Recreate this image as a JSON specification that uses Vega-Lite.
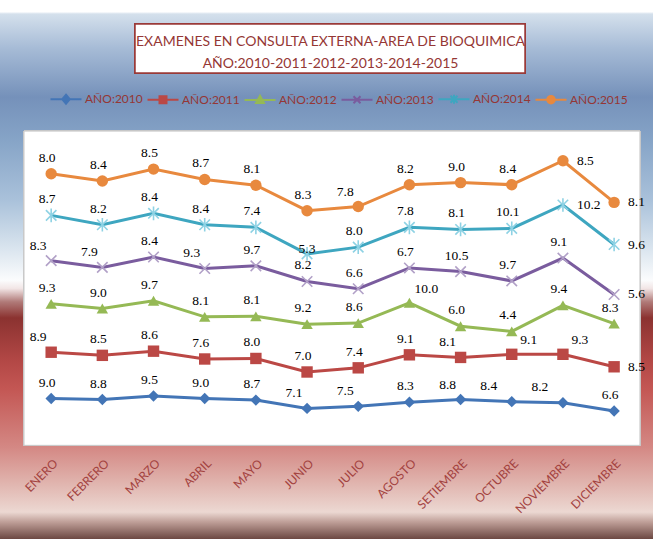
{
  "$schema": "https://vega.github.io/schema/vega-lite/v6.json",
  "width": 653,
  "height": 539,
  "padding": 0,
  "autosize": {"type": "none"},
  "background": "#ffffff",
  "config": {
    "view": {
      "stroke": null,
      "fill": {
        "gradient": "linear", "x1": 0, "y1": 0, "x2": 0, "y2": 1,
        "stops": [
          {"offset": 0, "color": "#ffffff"},
          {"offset": 0.022, "color": "#ffffff"},
          {"offset": 0.026, "color": "#d4e0ec"},
          {"offset": 0.09, "color": "#a6bbd6"},
          {"offset": 0.18, "color": "#7591ba"},
          {"offset": 0.26, "color": "#86a4c7"},
          {"offset": 0.37, "color": "#a9c1da"},
          {"offset": 0.46, "color": "#d9e4ee"},
          {"offset": 0.52, "color": "#fbfcfd"},
          {"offset": 0.535, "color": "#f2e6e6"},
          {"offset": 0.56, "color": "#b07a78"},
          {"offset": 0.59, "color": "#8b3230"},
          {"offset": 0.67, "color": "#b34846"},
          {"offset": 0.72, "color": "#c35653"},
          {"offset": 0.83, "color": "#d48884"},
          {"offset": 0.89, "color": "#dfb0aa"},
          {"offset": 0.95, "color": "#ecd8d2"},
          {"offset": 0.968, "color": "#c0a099"},
          {"offset": 1, "color": "#6c4842"}
        ]
      }
    }
  },
  "title": {
    "text": ["EXAMENES EN CONSULTA EXTERNA-AREA DE BIOQUIMICA", "AÑO:2010-2011-2012-2013-2014-2015"],
    "frame": "group", "anchor": "middle", "orient": "top", "offset": -71,
    "lineHeight": 22, "font": "Lato", "fontSize": 14, "fontWeight": "normal", "color": "#953735", "dx": 4, "zindex": 2
  },
  "data": {
    "values": [
      {"mes": "ENERO", "n": 1, "serie": "AÑO:2010", "v": 9.0},
      {"mes": "FEBRERO", "n": 2, "serie": "AÑO:2010", "v": 8.8},
      {"mes": "MARZO", "n": 3, "serie": "AÑO:2010", "v": 9.5},
      {"mes": "ABRIL", "n": 4, "serie": "AÑO:2010", "v": 9.0},
      {"mes": "MAYO", "n": 5, "serie": "AÑO:2010", "v": 8.7},
      {"mes": "JUNIO", "n": 6, "serie": "AÑO:2010", "v": 7.1},
      {"mes": "JULIO", "n": 7, "serie": "AÑO:2010", "v": 7.5},
      {"mes": "AGOSTO", "n": 8, "serie": "AÑO:2010", "v": 8.3},
      {"mes": "SETIEMBRE", "n": 9, "serie": "AÑO:2010", "v": 8.8},
      {"mes": "OCTUBRE", "n": 10, "serie": "AÑO:2010", "v": 8.4},
      {"mes": "NOVIEMBRE", "n": 11, "serie": "AÑO:2010", "v": 8.2},
      {"mes": "DICIEMBRE", "n": 12, "serie": "AÑO:2010", "v": 6.6},
      {"mes": "ENERO", "n": 1, "serie": "AÑO:2011", "v": 8.9},
      {"mes": "FEBRERO", "n": 2, "serie": "AÑO:2011", "v": 8.5},
      {"mes": "MARZO", "n": 3, "serie": "AÑO:2011", "v": 8.6},
      {"mes": "ABRIL", "n": 4, "serie": "AÑO:2011", "v": 7.6},
      {"mes": "MAYO", "n": 5, "serie": "AÑO:2011", "v": 8.0},
      {"mes": "JUNIO", "n": 6, "serie": "AÑO:2011", "v": 7.0},
      {"mes": "JULIO", "n": 7, "serie": "AÑO:2011", "v": 7.4},
      {"mes": "AGOSTO", "n": 8, "serie": "AÑO:2011", "v": 9.1},
      {"mes": "SETIEMBRE", "n": 9, "serie": "AÑO:2011", "v": 8.1},
      {"mes": "OCTUBRE", "n": 10, "serie": "AÑO:2011", "v": 9.1},
      {"mes": "NOVIEMBRE", "n": 11, "serie": "AÑO:2011", "v": 9.3},
      {"mes": "DICIEMBRE", "n": 12, "serie": "AÑO:2011", "v": 8.5},
      {"mes": "ENERO", "n": 1, "serie": "AÑO:2012", "v": 9.3},
      {"mes": "FEBRERO", "n": 2, "serie": "AÑO:2012", "v": 9.0},
      {"mes": "MARZO", "n": 3, "serie": "AÑO:2012", "v": 9.7},
      {"mes": "ABRIL", "n": 4, "serie": "AÑO:2012", "v": 8.1},
      {"mes": "MAYO", "n": 5, "serie": "AÑO:2012", "v": 8.1},
      {"mes": "JUNIO", "n": 6, "serie": "AÑO:2012", "v": 9.2},
      {"mes": "JULIO", "n": 7, "serie": "AÑO:2012", "v": 8.6},
      {"mes": "AGOSTO", "n": 8, "serie": "AÑO:2012", "v": 10.0},
      {"mes": "SETIEMBRE", "n": 9, "serie": "AÑO:2012", "v": 6.0},
      {"mes": "OCTUBRE", "n": 10, "serie": "AÑO:2012", "v": 4.4},
      {"mes": "NOVIEMBRE", "n": 11, "serie": "AÑO:2012", "v": 9.4},
      {"mes": "DICIEMBRE", "n": 12, "serie": "AÑO:2012", "v": 8.3},
      {"mes": "ENERO", "n": 1, "serie": "AÑO:2013", "v": 8.3},
      {"mes": "FEBRERO", "n": 2, "serie": "AÑO:2013", "v": 7.9},
      {"mes": "MARZO", "n": 3, "serie": "AÑO:2013", "v": 8.4},
      {"mes": "ABRIL", "n": 4, "serie": "AÑO:2013", "v": 9.3},
      {"mes": "MAYO", "n": 5, "serie": "AÑO:2013", "v": 9.7},
      {"mes": "JUNIO", "n": 6, "serie": "AÑO:2013", "v": 8.2},
      {"mes": "JULIO", "n": 7, "serie": "AÑO:2013", "v": 6.6},
      {"mes": "AGOSTO", "n": 8, "serie": "AÑO:2013", "v": 6.7},
      {"mes": "SETIEMBRE", "n": 9, "serie": "AÑO:2013", "v": 10.5},
      {"mes": "OCTUBRE", "n": 10, "serie": "AÑO:2013", "v": 9.7},
      {"mes": "NOVIEMBRE", "n": 11, "serie": "AÑO:2013", "v": 9.1},
      {"mes": "DICIEMBRE", "n": 12, "serie": "AÑO:2013", "v": 5.6},
      {"mes": "ENERO", "n": 1, "serie": "AÑO:2014", "v": 8.7},
      {"mes": "FEBRERO", "n": 2, "serie": "AÑO:2014", "v": 8.2},
      {"mes": "MARZO", "n": 3, "serie": "AÑO:2014", "v": 8.4},
      {"mes": "ABRIL", "n": 4, "serie": "AÑO:2014", "v": 8.4},
      {"mes": "MAYO", "n": 5, "serie": "AÑO:2014", "v": 7.4},
      {"mes": "JUNIO", "n": 6, "serie": "AÑO:2014", "v": 5.3},
      {"mes": "JULIO", "n": 7, "serie": "AÑO:2014", "v": 8.0},
      {"mes": "AGOSTO", "n": 8, "serie": "AÑO:2014", "v": 7.8},
      {"mes": "SETIEMBRE", "n": 9, "serie": "AÑO:2014", "v": 8.1},
      {"mes": "OCTUBRE", "n": 10, "serie": "AÑO:2014", "v": 10.1},
      {"mes": "NOVIEMBRE", "n": 11, "serie": "AÑO:2014", "v": 10.2},
      {"mes": "DICIEMBRE", "n": 12, "serie": "AÑO:2014", "v": 9.6},
      {"mes": "ENERO", "n": 1, "serie": "AÑO:2015", "v": 8.0},
      {"mes": "FEBRERO", "n": 2, "serie": "AÑO:2015", "v": 8.4},
      {"mes": "MARZO", "n": 3, "serie": "AÑO:2015", "v": 8.5},
      {"mes": "ABRIL", "n": 4, "serie": "AÑO:2015", "v": 8.7},
      {"mes": "MAYO", "n": 5, "serie": "AÑO:2015", "v": 8.1},
      {"mes": "JUNIO", "n": 6, "serie": "AÑO:2015", "v": 8.3},
      {"mes": "JULIO", "n": 7, "serie": "AÑO:2015", "v": 7.8},
      {"mes": "AGOSTO", "n": 8, "serie": "AÑO:2015", "v": 8.2},
      {"mes": "SETIEMBRE", "n": 9, "serie": "AÑO:2015", "v": 9.0},
      {"mes": "OCTUBRE", "n": 10, "serie": "AÑO:2015", "v": 8.4},
      {"mes": "NOVIEMBRE", "n": 11, "serie": "AÑO:2015", "v": 8.5},
      {"mes": "DICIEMBRE", "n": 12, "serie": "AÑO:2015", "v": 8.1}
    ]
  },
  "transform": [
    {"stack": "v", "groupby": ["mes"], "sort": [{"field": "serie", "order": "ascending"}], "as": ["y0", "y1"]}
  ],
  "layer": [
    {
      "mark": {"type": "rect", "fill": "#ffffff", "stroke": "#c8c8c8", "strokeWidth": 1},
      "encoding": {
        "x": {"datum": 0.469, "type": "quantitative", "scale": {"domain": [0, 12.76], "nice": false, "zero": false}},
        "x2": {"datum": 12.505},
        "y": {"datum": 0, "type": "quantitative", "scale": {"domain": [-18, 85.6], "nice": false, "zero": false}, "axis": null},
        "y2": {"datum": 60.4}
      }
    },
    {
      "mark": {"type": "rect", "fill": "#ffffff", "stroke": "#9b3b39", "strokeWidth": 1.5},
      "encoding": {
        "x": {"datum": 2.638, "type": "quantitative", "scale": {"domain": [0, 12.76], "nice": false, "zero": false}},
        "x2": {"datum": 10.259},
        "y": {"datum": 81.0, "type": "quantitative", "scale": {"domain": [-18, 85.6], "nice": false, "zero": false}, "axis": null},
        "y2": {"datum": 71.57}
      }
    },
    {
      "mark": {"type": "line", "strokeWidth": 3},
      "encoding": {
        "x": {
          "field": "n", "type": "quantitative",
          "scale": {"domain": [0, 12.76], "nice": false, "zero": false},
          "axis": {
            "values": [1, 2, 3, 4, 5, 6, 7, 8, 9, 10, 11, 12],
            "labelExpr": "['ENERO','FEBRERO','MARZO','ABRIL','MAYO','JUNIO','JULIO','AGOSTO','SETIEMBRE','OCTUBRE','NOVIEMBRE','DICIEMBRE'][datum.value - 1]",
            "labelAngle": -45, "labelAlign": "right", "labelBaseline": "middle",
            "labelFont": "Lato", "labelFontSize": 12, "labelColor": "#a3423f",
            "domain": false, "ticks": false, "grid": false, "title": null,
            "offset": -85, "labelPadding": 7, "labelOffset": 4, "labelOverlap": false, "zindex": 1
          }
        },
        "y": {"field": "y1", "type": "quantitative", "scale": {"domain": [-18, 85.6], "nice": false, "zero": false}, "axis": null},
        "color": {
          "field": "serie", "type": "nominal",
          "scale": {
            "domain": ["AÑO:2010", "AÑO:2011", "AÑO:2012", "AÑO:2013", "AÑO:2014", "AÑO:2015"],
            "range": ["#4375b6", "#bb4845", "#95b955", "#7a5c9e", "#3ea6c0", "#e8893e"]
          },
          "legend": {
            "title": null, "orient": "none", "legendX": 60, "legendY": 93, "direction": "horizontal",
            "labelFont": "Lato", "labelFontSize": 12, "labelColor": "#953735",
            "symbolSize": 100, "symbolStrokeWidth": 2, "labelOffset": 13, "columnPadding": 0, "padding": 0, "zindex": 1,
            "encoding": {
              "symbols": {
                "shape": {"value": {"expr": "datum.value == 'AÑO:2010' ? 'M-3.1,0L3.1,0M0,-0.9L0.75,0L0,0.9L-0.75,0Z' : datum.value == 'AÑO:2011' ? 'M-3.1,0L3.1,0M-0.7,-0.7L0.7,-0.7L0.7,0.7L-0.7,0.7Z' : datum.value == 'AÑO:2012' ? 'M-3.1,0L3.1,0M0,-0.85L0.8,0.6L-0.8,0.6Z' : datum.value == 'AÑO:2013' ? 'M-3.1,0L3.1,0M-0.7,-0.7L0.7,0.7M-0.7,0.7L0.7,-0.7' : datum.value == 'AÑO:2014' ? 'M-3.1,0L3.1,0M-0.7,-0.7L0.7,0.7M-0.7,0.7L0.7,-0.7M0,-0.9L0,0.9' : 'M-3.1,0L3.1,0M0.75,0A0.75,0.75,0,1,1,-0.75,0A0.75,0.75,0,1,1,0.75,0Z'"}},
                "fill": {"value": {"expr": "scale('color', datum.value)"}},
                "stroke": {"value": {"expr": "scale('color', datum.value)"}},
                "strokeWidth": {"value": 2},
                "opacity": {"value": 1}
              }
            }
          }
        }
      }
    },
    {
      "transform": [{"filter": "indexof(['AÑO:2010','AÑO:2011','AÑO:2012','AÑO:2015'], datum.serie) >= 0"}],
      "mark": {"type": "point", "filled": true, "size": 130, "opacity": 1},
      "encoding": {
        "x": {"field": "n", "type": "quantitative", "scale": {"domain": [0, 12.76], "nice": false, "zero": false}},
        "y": {"field": "y1", "type": "quantitative", "scale": {"domain": [-18, 85.6], "nice": false, "zero": false}, "axis": null},
        "color": {"field": "serie", "type": "nominal"},
        "shape": {
          "field": "serie", "type": "nominal",
          "scale": {"domain": ["AÑO:2010", "AÑO:2011", "AÑO:2012", "AÑO:2015"], "range": ["diamond", "square", "triangle-up", "circle"]},
          "legend": null
        }
      }
    },
    {
      "transform": [{"filter": "datum.serie == 'AÑO:2013'"}],
      "mark": {"type": "point", "filled": false, "size": 110, "shape": "M-1,-1L1,1M-1,1L1,-1", "stroke": "#b1a0c7", "strokeWidth": 1.6, "opacity": 1},
      "encoding": {
        "x": {"field": "n", "type": "quantitative", "scale": {"domain": [0, 12.76], "nice": false, "zero": false}},
        "y": {"field": "y1", "type": "quantitative", "scale": {"domain": [-18, 85.6], "nice": false, "zero": false}, "axis": null}
      }
    },
    {
      "transform": [{"filter": "datum.serie == 'AÑO:2014'"}],
      "mark": {"type": "point", "filled": false, "size": 110, "shape": "M-1,-1L1,1M-1,1L1,-1M0,-1.3L0,1.3", "stroke": "#8ed2e4", "strokeWidth": 1.6, "opacity": 1},
      "encoding": {
        "x": {"field": "n", "type": "quantitative", "scale": {"domain": [0, 12.76], "nice": false, "zero": false}},
        "y": {"field": "y1", "type": "quantitative", "scale": {"domain": [-18, 85.6], "nice": false, "zero": false}, "axis": null}
      }
    },
    {
      "transform": [{"filter": "indexof(['NOVIEMBRE|AÑO:2015','DICIEMBRE|AÑO:2015','NOVIEMBRE|AÑO:2014','DICIEMBRE|AÑO:2014','DICIEMBRE|AÑO:2013','DICIEMBRE|AÑO:2011','AGOSTO|AÑO:2012','OCTUBRE|AÑO:2011','NOVIEMBRE|AÑO:2011','OCTUBRE|AÑO:2010','NOVIEMBRE|AÑO:2010','SETIEMBRE|AÑO:2011','ABRIL|AÑO:2013','JULIO|AÑO:2015','SETIEMBRE|AÑO:2010','FEBRERO|AÑO:2013','JULIO|AÑO:2010','ENERO|AÑO:2011','ENERO|AÑO:2013','JUNIO|AÑO:2010','JUNIO|AÑO:2014'], datum.mes + '|' + datum.serie) < 0"}],
      "mark": {"type": "text", "font": "Liberation Serif", "fontSize": 13.5, "color": "#000000", "dx": -4, "dy": -16, "align": "center", "baseline": "middle"},
      "encoding": {
        "x": {"field": "n", "type": "quantitative", "scale": {"domain": [0, 12.76], "nice": false, "zero": false}},
        "y": {"field": "y1", "type": "quantitative", "scale": {"domain": [-18, 85.6], "nice": false, "zero": false}, "axis": null},
        "text": {"field": "v", "type": "quantitative", "format": ".1f"}
      }
    },
    {
      "transform": [{"filter": "indexof(['NOVIEMBRE|AÑO:2015','DICIEMBRE|AÑO:2015','NOVIEMBRE|AÑO:2014','DICIEMBRE|AÑO:2014','DICIEMBRE|AÑO:2013','DICIEMBRE|AÑO:2011'], datum.mes + '|' + datum.serie) >= 0"}],
      "mark": {"type": "text", "font": "Liberation Serif", "fontSize": 13.5, "color": "#000000", "dx": 14, "dy": 0, "align": "left", "baseline": "middle"},
      "encoding": {
        "x": {"field": "n", "type": "quantitative", "scale": {"domain": [0, 12.76], "nice": false, "zero": false}},
        "y": {"field": "y1", "type": "quantitative", "scale": {"domain": [-18, 85.6], "nice": false, "zero": false}, "axis": null},
        "text": {"field": "v", "type": "quantitative", "format": ".1f"}
      }
    },
    {
      "transform": [{"filter": "indexof(['AGOSTO|AÑO:2012','OCTUBRE|AÑO:2011','NOVIEMBRE|AÑO:2011'], datum.mes + '|' + datum.serie) >= 0"}],
      "mark": {"type": "text", "font": "Liberation Serif", "fontSize": 13.5, "color": "#000000", "dx": 17, "dy": -14, "align": "center", "baseline": "middle"},
      "encoding": {
        "x": {"field": "n", "type": "quantitative", "scale": {"domain": [0, 12.76], "nice": false, "zero": false}},
        "y": {"field": "y1", "type": "quantitative", "scale": {"domain": [-18, 85.6], "nice": false, "zero": false}, "axis": null},
        "text": {"field": "v", "type": "quantitative", "format": ".1f"}
      }
    },
    {
      "transform": [{"filter": "indexof(['SETIEMBRE|AÑO:2011','ABRIL|AÑO:2013','JULIO|AÑO:2015','SETIEMBRE|AÑO:2010','FEBRERO|AÑO:2013','JULIO|AÑO:2010','ENERO|AÑO:2011','ENERO|AÑO:2013','JUNIO|AÑO:2010'], datum.mes + '|' + datum.serie) >= 0"}],
      "mark": {"type": "text", "font": "Liberation Serif", "fontSize": 13.5, "color": "#000000", "dx": -13, "dy": -15, "align": "center", "baseline": "middle"},
      "encoding": {
        "x": {"field": "n", "type": "quantitative", "scale": {"domain": [0, 12.76], "nice": false, "zero": false}},
        "y": {"field": "y1", "type": "quantitative", "scale": {"domain": [-18, 85.6], "nice": false, "zero": false}, "axis": null},
        "text": {"field": "v", "type": "quantitative", "format": ".1f"}
      }
    },
    {
      "transform": [{"filter": "indexof(['OCTUBRE|AÑO:2010','NOVIEMBRE|AÑO:2010'], datum.mes + '|' + datum.serie) >= 0"}],
      "mark": {"type": "text", "font": "Liberation Serif", "fontSize": 13.5, "color": "#000000", "dx": -23, "dy": -16, "align": "center", "baseline": "middle"},
      "encoding": {
        "x": {"field": "n", "type": "quantitative", "scale": {"domain": [0, 12.76], "nice": false, "zero": false}},
        "y": {"field": "y1", "type": "quantitative", "scale": {"domain": [-18, 85.6], "nice": false, "zero": false}, "axis": null},
        "text": {"field": "v", "type": "quantitative", "format": ".1f"}
      }
    },
    {
      "transform": [{"filter": "datum.mes + '|' + datum.serie == 'JUNIO|AÑO:2014'"}],
      "mark": {"type": "text", "font": "Liberation Serif", "fontSize": 13.5, "color": "#000000", "dx": 0, "dy": -5, "align": "center", "baseline": "middle"},
      "encoding": {
        "x": {"field": "n", "type": "quantitative", "scale": {"domain": [0, 12.76], "nice": false, "zero": false}},
        "y": {"field": "y1", "type": "quantitative", "scale": {"domain": [-18, 85.6], "nice": false, "zero": false}, "axis": null},
        "text": {"field": "v", "type": "quantitative", "format": ".1f"}
      }
    }
  ]
}
